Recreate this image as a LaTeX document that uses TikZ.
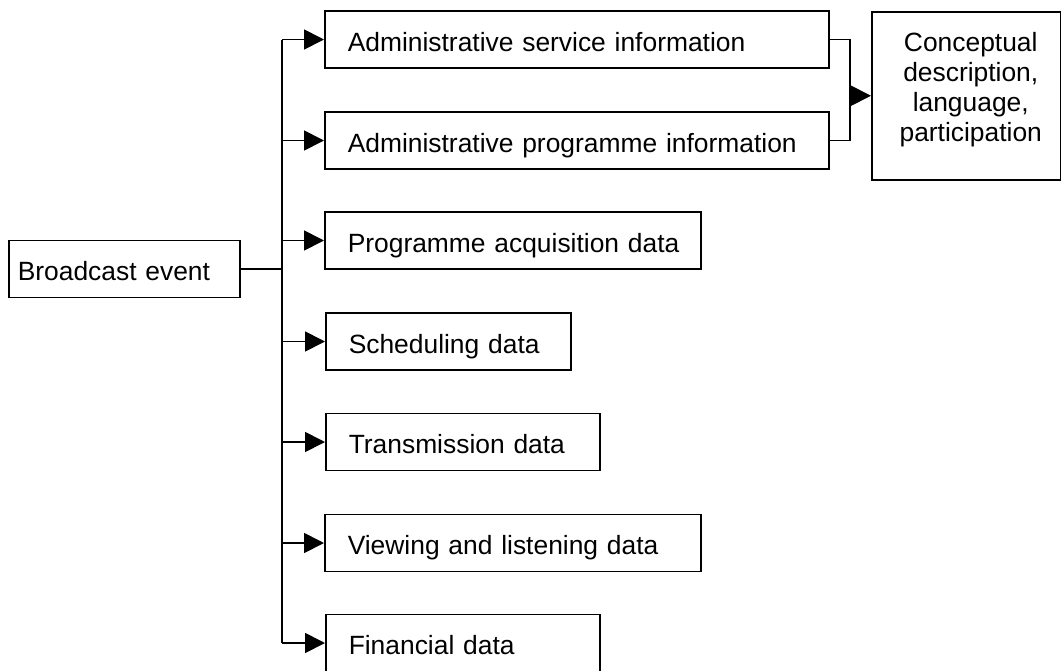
\documentclass[tikz,border=0pt]{standalone}
\usepackage{fontspec}
\setmainfont{Liberation Sans}
\usetikzlibrary{arrows.meta}
\begin{document}
\begin{tikzpicture}[x=1pt,y=-1pt,
  every node/.style={font=\fontsize{26.4}{30}\selectfont},
  box/.style={draw, line width=1.5pt, rectangle, anchor=west, minimum height=57pt,
              text height=23pt, text depth=0pt, align=left, inner xsep=0pt},
  lnk/.style={line width=1.8pt},
  arr/.style={line width=1.8pt, -{Triangle[length=20pt,width=20pt]}}
]
\useasboundingbox (0,0) rectangle (1061,670);
% nodes
\node[box, minimum width=231pt, text width=213pt] (be) at (8,269) {Broadcast event};
\node[box, minimum width=504pt, text width=458pt] (b1) at (324,39.5) {\mbox{Administrative service information}};
\node[box, minimum width=504pt, text width=458pt] (b2) at (324,140.5) {\mbox{Administrative programme information}};
\node[box, minimum width=376pt, text width=330pt] (b3) at (324,240.5) {\mbox{Programme acquisition data}};
\node[box, minimum width=245pt, text width=199pt] (b4) at (325,341.5) {\mbox{Scheduling data}};
\node[box, minimum width=274pt, text width=228pt] (b5) at (325,442) {\mbox{Transmission data}};
\node[box, minimum width=376pt, text width=330pt] (b6) at (324,543) {\mbox{Viewing and listening data}};
\node[box, minimum width=274pt, text width=228pt] (b7) at (325,643) {\mbox{Financial data}};
\node[draw, line width=1.5pt, rectangle, anchor=north west, minimum width=189pt, minimum height=168pt,
      align=center, text height=109pt, text depth=17pt] (cd) at (871,11)
      {\hspace*{9pt}Conceptual\\\hspace*{9pt}description,\\\hspace*{9pt}language,\\\hspace*{9pt}participation};
% trunk
\coordinate (tk) at (282,0);
\coordinate (br) at (850,0);
\draw[lnk] (be.east) -- (be.east -| tk);
\draw[lnk] (tk |- b1.west) -- (tk |- b7.west);
\foreach \b in {b1,b2,b3,b4,b5,b6,b7}{
  \draw[arr] (tk |- \b.west) -- (\b.west);
}
% bracket
\draw[lnk] (b1.east) -- (b1.east -| br) -- (b2.east -| br) -- (b2.east);
\draw[arr] (cd.west -| br) -- (cd.west);
\end{tikzpicture}
\end{document}
